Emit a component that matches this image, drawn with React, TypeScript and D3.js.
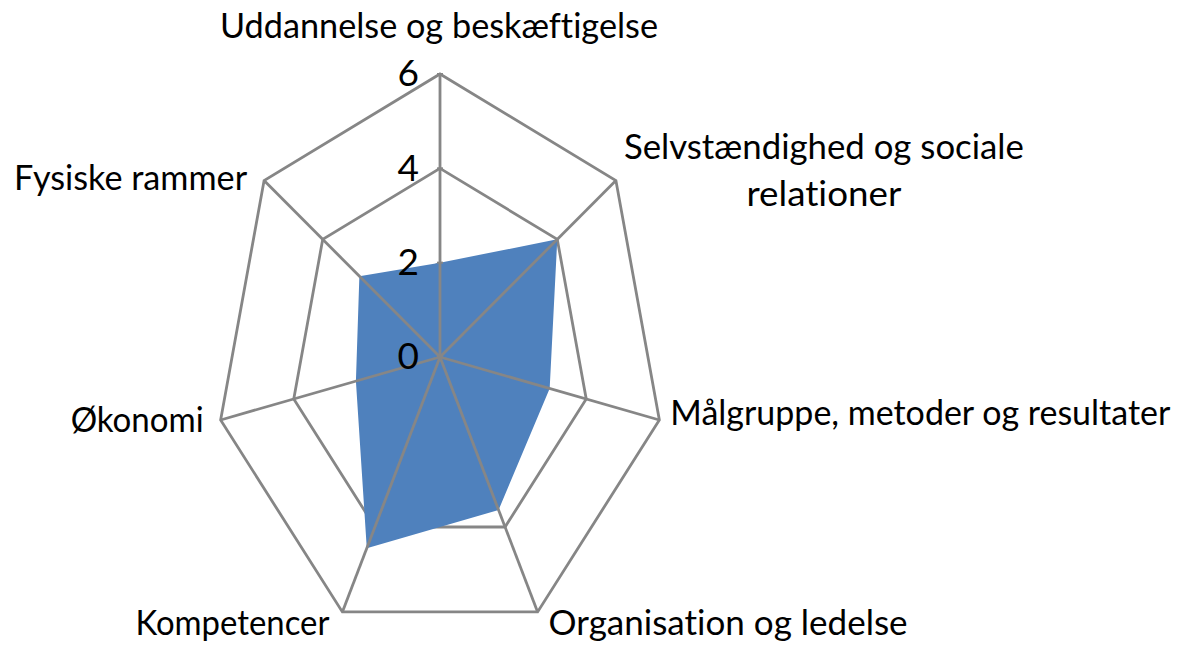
import * as d3 from "d3";

// kategorier (med uret fra toppen)
const categories = [
  "Uddannelse og beskæftigelse",
  "Selvstændighed og sociale relationer",
  "Målgruppe, metoder og resultater",
  "Organisation og ledelse",
  "Kompetencer",
  "Økonomi",
  "Fysiske rammer",
];

const scores = [2, 4, 3, 3.6, 4.5, 2.3, 2.75];

const ticks = [0, 2, 4, 6];

// label lines as they wrap in the picture
const labelLines = [
  ["Uddannelse og beskæftigelse"],
  ["Selvstændighed og sociale", "relationer"],
  ["Målgruppe, metoder og resultater"],
  ["Organisation og ledelse"],
  ["Kompetencer"],
  ["Økonomi"],
  ["Fysiske rammer"],
];

// label placement relative to the outer vertex
const labelPlace = [
  { dx: -1, dy: -36, anchor: "middle", widths: [438] },
  { dx: 208, dy: -22, anchor: "middle", widths: [400, 155] },
  { dx: 11, dy: 5, anchor: "start", widths: [500] },
  { dx: 11, dy: 23, anchor: "start", widths: [359] },
  { dx: -13, dy: 23, anchor: "end", widths: [194] },
  { dx: -17, dy: 12, anchor: "end", widths: [133] },
  { dx: -17, dy: 9, anchor: "end", widths: [233] },
];

export default function App() {
  const width = 1184;
  const height = 646;
  const cx = 440;
  const cy = 357;
  const maxV = 6;

  // the chart is squashed horizontally
  const rx = d3.scaleLinear().domain([0, maxV]).range([0, 225]);
  const ry = d3.scaleLinear().domain([0, maxV]).range([0, 283]);
  const angle = d3
    .scaleLinear()
    .domain([0, categories.length])
    .range([0, 2 * Math.PI]);

  const pt = (i: number, v: number): [number, number] => [
    cx + rx(v) * Math.sin(angle(i)),
    cy - ry(v) * Math.cos(angle(i)),
  ];

  const ring = (v: number) =>
    d3.line()(categories.map((_, i) => pt(i, v))) + "Z";

  const area = d3.line()(scores.map((s, i) => pt(i, s))) + "Z";

  const grid = "#868686";
  const font = "Lato, 'Open Sans', sans-serif";
  const noLig = { fontVariantLigatures: "none", fontFeatureSettings: "'liga' 0, 'clig' 0" } as any;

  return (
    <svg
      width={width}
      height={height}
      style={{ position: "absolute", left: 0, top: 0, background: "#fff" }}
    >
      {/* rings */}
      {ticks
        .filter((t) => t > 0)
        .map((t) => (
          <path key={t} d={ring(t)} fill="none" stroke={grid} strokeWidth={2.8} />
        ))}

      {/* data */}
      <path d={area} fill="#4F81BD" stroke="none" />

      {/* spokes */}
      {categories.map((c, i) => {
        const [x, y] = pt(i, maxV);
        return (
          <line key={c} x1={cx} y1={cy} x2={x} y2={y} stroke={grid} strokeWidth={2.8} />
        );
      })}

      {/* tick marks on value axis */}
      {ticks.map((t) => (
        <line
          key={"tm" + t}
          x1={cx - 3}
          x2={cx + 3}
          y1={cy - ry(t)}
          y2={cy - ry(t)}
          stroke={grid}
          strokeWidth={2}
        />
      ))}

      {/* tick labels */}
      {ticks.map((t) => (
        <text
          key={"t" + t}
          x={cx - 21}
          y={cy - ry(t) + 3}
          textAnchor="end"
          dominantBaseline="middle"
          fontFamily={font}
          fontSize={37}
          fill="#000"
        >
          {t}
        </text>
      ))}

      {/* category labels */}
      {labelLines.map((lines, i) => {
        const [vx, vy] = pt(i, maxV);
        const p = labelPlace[i];
        return (
          <text
            key={categories[i]}
            fontFamily={font}
            fontSize={35}
            fill="#000"
            textAnchor={p.anchor}
            style={noLig}
          >
            {lines.map((ln, j) => (
              <tspan
                key={j}
                x={vx + p.dx}
                y={vy + p.dy + j * 47}
                textLength={p.widths[j]}
                lengthAdjust="spacingAndGlyphs"
              >
                {ln}
              </tspan>
            ))}
          </text>
        );
      })}
    </svg>
  );
}
